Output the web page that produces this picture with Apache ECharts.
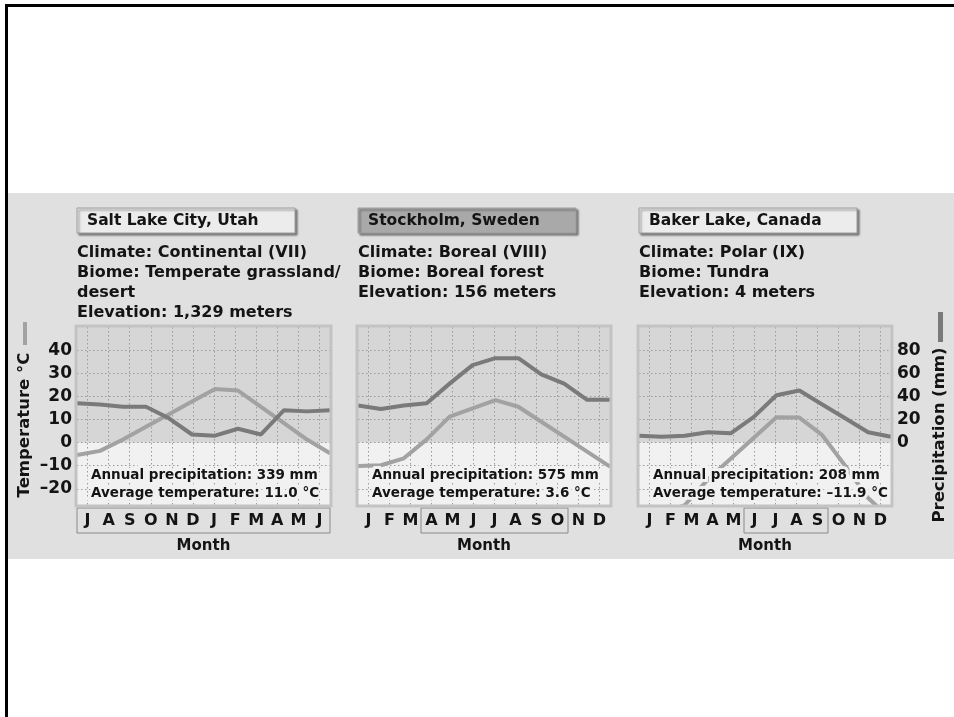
<!DOCTYPE html>
<html><head><meta charset="utf-8">
<script src="https://cdn.jsdelivr.net/npm/echarts@6/dist/echarts.min.js"></script>
<style>
html,body{margin:0;padding:0;background:#fff;}
#wrap{position:relative;width:954px;height:717px;overflow:hidden;}
#band{position:absolute;left:7px;top:193px;width:947px;height:366px;background:#e0e0e0;}
#topline{position:absolute;left:5px;top:4px;width:949px;height:3px;background:#000;}
#leftline{position:absolute;left:5px;top:4px;width:3px;height:713px;background:#000;}
#c{position:absolute;left:0;top:0;width:954px;height:717px;}
</style>
</head><body>
<div id="wrap"><div id="band"></div><div id="topline"></div><div id="leftline"></div><div id="c"></div></div>
<script>
// ---- data ----
const monthsSLC = ['J','A','S','O','N','D','J','F','M','A','M','J'];
const monthsCal = ['J','F','M','A','M','J','J','A','S','O','N','D'];
const tempSLC = [-5.4,-3.6,1.3,6.8,12.3,17.8,23.2,22.5,15.4,8.4,1.3,-4.6];
const precSLC = [34,33,31,31,21,7,6,12,7,28,27,28];
const tempSTO = [-10.1,-9.8,-6.8,1.4,11.2,14.8,18.4,15.5,9,2.6,-3.9,-10.4];
const precSTO = [32,29,32,34,51,67,73,73,59,51,37,37];
const tempBAK = [-32,-31,-27,-16,-7,2,11,10.8,3.2,-10,-24,-33];
const precBAK = [6,5,6,9,8,22,41,45,33,21,9,5];
const tempTicks = [-20,-10,0,10,20,30,40];
const precTicks = [0,20,40,60,80];
const tempRange = [-27, 50];
const precRange = [-54, 100];

const titles = ['Salt Lake City, Utah','Stockholm, Sweden','Baker Lake, Canada'];
const infos = [
  'Climate: Continental (VII)\nBiome: Temperate grassland/\ndesert\nElevation: 1,329 meters',
  'Climate: Boreal (VIII)\nBiome: Boreal forest\nElevation: 156 meters',
  'Climate: Polar (IX)\nBiome: Tundra\nElevation: 4 meters'
];
const annualPrec = ['Annual precipitation: 339 mm','Annual precipitation: 575 mm','Annual precipitation: 208 mm'];
const avgTemp = ['Average temperature: 11.0 °C','Average temperature: 3.6 °C','Average temperature: \u201311.9 °C'];
const monthLabels = [monthsSLC, monthsCal, monthsCal];
const temps = [tempSLC, tempSTO, tempBAK];
const precs = [precSLC, precSTO, precBAK];
const boxRanges = [[0,12],[3,10],[5,9]]; // month bins boxed
const highlighted = [false, true, false];

// ---- layout ----
const lefts = [77, 358, 639];
const widths = [253, 252, 252];
const TOP = 327, H = 178;
const FONT = '"DejaVu Sans", sans-serif';
const INK = '#141414';
const PREC_COLOR = '#7a7a7a', TEMP_COLOR = '#a2a2a2';
const LOWER_BG = '#f1f1f1';

const grids = [], xAxes = [], yAxes = [], series = [], graphics = [];
const gridIdx = [...Array(25).keys()].map(String);

for (let i = 0; i < 3; i++) {
  grids.push({left: lefts[i], top: TOP, width: widths[i], height: H, show: true,
    backgroundColor: '#d6d6d6', borderWidth: 0});
  // data axis
  xAxes.push({type: 'category', gridIndex: i, position: 'bottom', data: monthLabels[i].map((m,k)=>k), boundaryGap: false, show: false});
  // label axis
  xAxes.push({type: 'category', gridIndex: i, position: 'bottom', data: monthLabels[i], boundaryGap: true, z: 2,
    axisLine: {show: false}, axisTick: {show: false}, splitLine: {show: false},
    axisLabel: {interval: 0, margin: 8, fontSize: 16, fontWeight: 'bold', fontFamily: FONT, color: INK}});
  // vertical grid line axis
  xAxes.push({type: 'category', gridIndex: i, position: 'bottom', data: gridIdx, boundaryGap: false, z: 2,
    axisLine: {show: false}, axisTick: {show: false}, axisLabel: {show: false},
    splitLine: {show: true, interval: (idx) => idx % 2 === 1, lineStyle: {type: [1.5, 2.5], color: '#9a9a9a', width: 1}}});
  yAxes.push({type: 'value', gridIndex: i, min: tempRange[0], max: tempRange[1], position: 'left', z: 2,
    axisLine: {show: false},
    axisTick: {show: false, customValues: tempTicks},
    axisLabel: {show: i === 0, customValues: tempTicks, margin: 5, fontSize: 17, fontWeight: 'bold', fontFamily: FONT, color: INK,
      formatter: v => (v < 0 ? '\u2013' + Math.abs(v) : String(v))},
    splitLine: {show: true, lineStyle: {type: [1.5, 2.5], color: '#9a9a9a', width: 1}}});
  yAxes.push({type: 'value', gridIndex: i, min: precRange[0], max: precRange[1], position: 'right', z: 2,
    axisLine: {show: false},
    axisTick: {show: false, customValues: precTicks},
    axisLabel: {show: i === 2, customValues: precTicks, margin: 6, fontSize: 17, fontWeight: 'bold', fontFamily: FONT, color: INK},
    splitLine: {show: false}});

  series.push({type: 'line', name: 'Temperature', xAxisIndex: 3*i, yAxisIndex: 2*i, data: temps[i], z: 3,
    symbol: 'none', smooth: false, lineStyle: {color: TEMP_COLOR, width: 4}, clip: true,
    markArea: {silent: true, z: 1, itemStyle: {color: LOWER_BG}, data: [[{yAxis: 0}, {yAxis: tempRange[0]}]]}});
  series.push({type: 'line', name: 'Precipitation', xAxisIndex: 3*i, yAxisIndex: 2*i+1, data: precs[i], z: 3,
    symbol: 'none', smooth: false, lineStyle: {color: PREC_COLOR, width: 4}, clip: true});

  const L = lefts[i], W = widths[i];
  // plot frame
  graphics.push({type: 'rect', z: 5, shape: {x: L - 1, y: TOP - 1, width: W + 2, height: H + 2},
    style: {fill: null, stroke: '#c3c3c3', lineWidth: 3}});
  // title box
  graphics.push({type: 'rect', z: 10, shape: {x: L, y: 208, width: 218, height: 25},
    style: {fill: highlighted[i] ? '#a9a9a9' : '#ececec', stroke: '#9c9c9c', lineWidth: 1,
      shadowBlur: 2, shadowOffsetX: 2, shadowOffsetY: 2, shadowColor: 'rgba(0,0,0,0.45)'}});
  graphics.push({type: 'text', z: 11, x: L + 10, y: 221,
    style: {text: titles[i], font: 'bold 15.5px ' + FONT, fill: INK, textAlign: 'left', textVerticalAlign: 'middle'}});
  // info text
  graphics.push({type: 'text', z: 11, x: L, y: 243,
    style: {text: infos[i], font: 'bold 16px ' + FONT, fill: INK, lineHeight: 20, textAlign: 'left', textVerticalAlign: 'top'}});
  // annual / average text with halo
  graphics.push({type: 'text', z: 11, x: L + 14, y: 475,
    style: {text: annualPrec[i], font: 'bold 13.5px ' + FONT, fill: INK, stroke: LOWER_BG, lineWidth: 6,
      textAlign: 'left', textVerticalAlign: 'middle'}});
  graphics.push({type: 'text', z: 11, x: L + 14, y: 493,
    style: {text: avgTemp[i], font: 'bold 13.5px ' + FONT, fill: INK, stroke: LOWER_BG, lineWidth: 6,
      textAlign: 'left', textVerticalAlign: 'middle'}});
  // month box
  const b = boxRanges[i];
  graphics.push({type: 'rect', z: 4, shape: {x: L + W * b[0] / 12, y: 508, width: W * (b[1] - b[0]) / 12, height: 25},
    style: {fill: null, stroke: '#8a8a8a', lineWidth: 1}});
  // Month title
  graphics.push({type: 'text', z: 11, x: L + W / 2, y: 546,
    style: {text: 'Month', font: 'bold 15px ' + FONT, fill: INK, textAlign: 'center', textVerticalAlign: 'middle'}});
}

// axis titles with legend bars
graphics.push({type: 'text', z: 11, x: 25, y: 425, rotation: Math.PI / 2,
  style: {text: 'Temperature °C', font: 'bold 16.5px ' + FONT, fill: INK, textAlign: 'center', textVerticalAlign: 'middle'}});
graphics.push({type: 'rect', z: 11, shape: {x: 23, y: 322, width: 4, height: 23}, style: {fill: TEMP_COLOR}});
graphics.push({type: 'text', z: 11, x: 940, y: 435, rotation: Math.PI / 2,
  style: {text: 'Precipitation (mm)', font: 'bold 16.5px ' + FONT, fill: INK, textAlign: 'center', textVerticalAlign: 'middle'}});
graphics.push({type: 'rect', z: 11, shape: {x: 938, y: 312, width: 5, height: 30}, style: {fill: PREC_COLOR}});

const chart = echarts.init(document.getElementById('c'), null, {renderer: 'canvas'});
chart.setOption({
  animation: false,
  backgroundColor: 'transparent',
  grid: grids, xAxis: xAxes, yAxis: yAxes, series: series,
  graphic: {elements: graphics}
});
</script>
</body></html>
